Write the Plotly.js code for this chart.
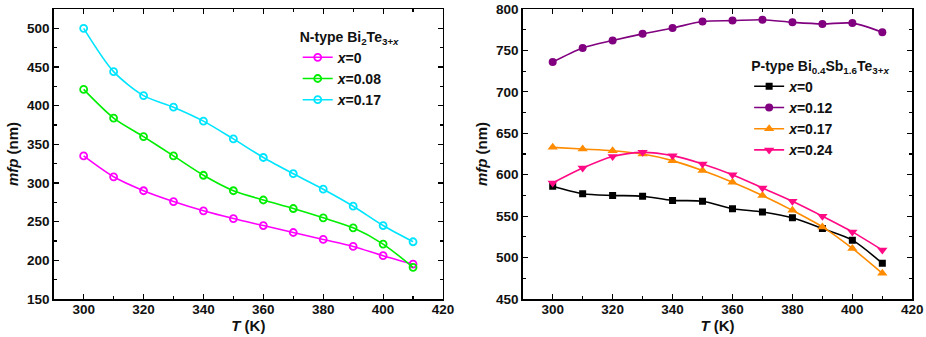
<!DOCTYPE html>
<html>
<head>
<meta charset="utf-8">
<script src="https://cdn.plot.ly/plotly-3.0.1.min.js"></script>
<style>html,body{margin:0;padding:0;background:#fff;}#chart{width:926px;height:337px;}</style>
</head>
<body>
<div id="chart"></div>
<script>
// Temperatures (K)
const temperature = [300, 310, 320, 330, 340, 350, 360, 370, 380, 390, 400, 410];

// N-type Bi2Te3+x, mean free path (nm)
const nLabels = ['<i>x</i>=0', '<i>x</i>=0.08', '<i>x</i>=0.17'];
const nX0    = [335, 308, 290, 276, 264, 254, 245, 236, 227, 218, 206, 195];
const nX008  = [421, 384, 360, 335, 310, 290, 278, 267, 255, 242, 221, 191];
const nX017  = [500, 444, 413, 398, 380, 357, 333, 312, 292, 270, 245, 224];

// P-type Bi0.4Sb1.6Te3+x, mean free path (nm)
const pLabels = ['<i>x</i>=0', '<i>x</i>=0.12', '<i>x</i>=0.17', '<i>x</i>=0.24'];
const pX0    = [586, 577, 575, 574, 569, 568, 559, 555, 548, 535, 521, 493];
const pX012  = [736, 753, 762, 770, 777, 785, 786, 787, 784, 782, 783, 772];
const pX017  = [633, 631, 629, 625, 617, 605, 591, 575, 557, 537, 511, 481];
const pX024  = [590, 608, 622, 627, 623, 613, 600, 584, 568, 550, 531, 509];

const nSeries = [nX0, nX008, nX017];
const pSeries = [pX0, pX012, pX017, pX024];
const nColors = ['#FF00FF', '#00EE00', '#00E5FF'];
const pColors = ['#000000', '#800080', '#FF8C00', '#FF0A84'];
const pSymbols = ['square', 'circle', 'triangle-up', 'triangle-down'];
const pSizes = [7, 8, 9, 9];

const FONT = 'Liberation Sans, Arial, Helvetica, sans-serif';
const traces = [];
nSeries.forEach((ys, i) => {
  traces.push({
    x: temperature, y: ys, name: nLabels[i], type: 'scatter', mode: 'lines+markers',
    xaxis: 'x', yaxis: 'y', legend: 'legend',
    line: {color: nColors[i], width: 1.6, shape: 'spline', smoothing: 0.8},
    marker: {symbol: 'circle-open', size: 7, color: nColors[i], line: {width: 1.8, color: nColors[i]}}
  });
});
pSeries.forEach((ys, i) => {
  traces.push({
    x: temperature, y: ys, name: pLabels[i], type: 'scatter', mode: 'lines+markers',
    xaxis: 'x2', yaxis: 'y2', legend: 'legend2',
    line: {color: pColors[i], width: 1.6, shape: 'spline', smoothing: 0.8},
    marker: {symbol: pSymbols[i], size: pSizes[i], color: pColors[i]}
  });
});

function xAxis(domain, anchor) {
  return {
    domain: domain, anchor: anchor, range: [290, 420], dtick: 20, tick0: 0,
    ticks: 'inside', ticklen: 5, tickwidth: 1.2, tickcolor: '#000',
    minor: {dtick: 10, ticks: 'inside', ticklen: 3, tickwidth: 1.2, tickcolor: '#000'},
    showline: true, linecolor: '#000', linewidth: 1.5, mirror: 'allticks',
    showgrid: false, zeroline: false, ticklabelstandoff: -3,
    tickfont: {family: FONT, size: 13.5, color: '#111', weight: 'bold'},
    title: {text: '<i>T</i> (K)', font: {family: FONT, size: 15, color: '#111', weight: 'bold'}, standoff: 0}
  };
}
function yAxis(anchor, range) {
  return {
    anchor: anchor, domain: [0, 1], range: range, dtick: 50, tick0: 0,
    ticks: 'inside', ticklen: 5, tickwidth: 1.2, tickcolor: '#000',
    minor: {dtick: 25, ticks: 'inside', ticklen: 3, tickwidth: 1.2, tickcolor: '#000'},
    showline: true, linecolor: '#000', linewidth: 1.5, mirror: 'allticks',
    showgrid: false, zeroline: false,
    tickfont: {family: FONT, size: 13.5, color: '#111', weight: 'bold'},
    title: {text: '<i>mfp</i> (nm)', font: {family: FONT, size: 15, color: '#111', weight: 'bold'}, standoff: 4}
  };
}

const legendFont = {family: FONT, size: 14, color: '#111', weight: 'bold'};
const layout = {
  width: 926, height: 337,
  margin: {l: 0, r: 0, t: 9, b: 38},
  paper_bgcolor: '#fff', plot_bgcolor: '#fff',
  showlegend: true,
  xaxis: xAxis([0.058, 0.4784], 'y'),
  yaxis: yAxis('x', [150, 525]),
  xaxis2: xAxis([0.5645, 0.9852], 'y2'),
  yaxis2: yAxis('x2', [450, 800]),
  legend: {
    x: 0.3215, y: 0.95, xanchor: 'left', yanchor: 'top', bgcolor: 'rgba(0,0,0,0)',
    font: legendFont, itemwidth: 30, tracegroupgap: 0,
    title: {text: 'N-type Bi<sub>2</sub>Te<sub>3+<i>x</i></sub>', font: legendFont}
  },
  legend2: {
    x: 0.809, y: 0.85, xanchor: 'left', yanchor: 'top', bgcolor: 'rgba(0,0,0,0)',
    font: legendFont, itemwidth: 30, tracegroupgap: 0,
    title: {text: 'P-type Bi<sub>0.4</sub>Sb<sub>1.6</sub>Te<sub>3+<i>x</i></sub>', font: legendFont}
  }
};

Plotly.newPlot('chart', traces, layout, {displayModeBar: false, staticPlot: true});
</script>
</body>
</html>
